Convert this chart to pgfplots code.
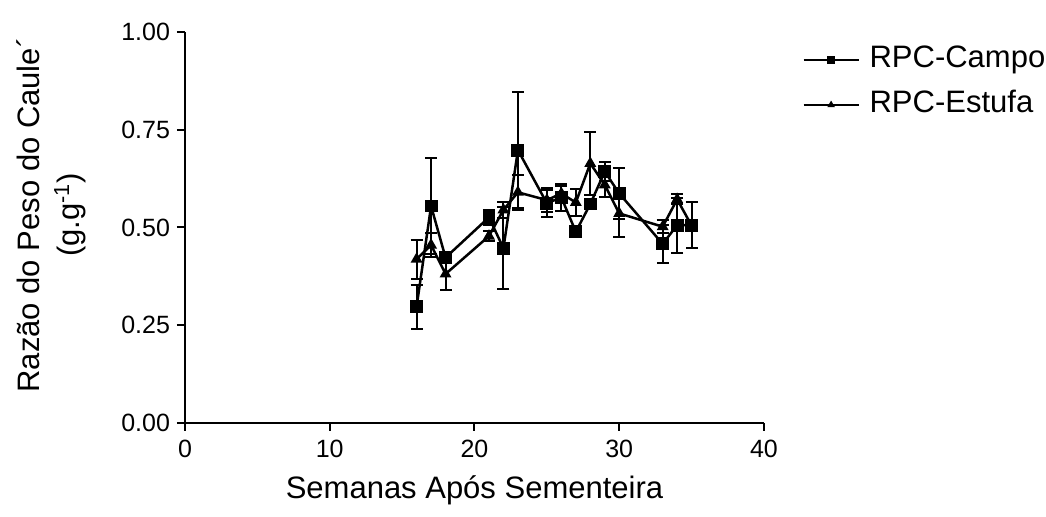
\documentclass[border=0pt]{standalone}
\usepackage{fontspec}
\setmainfont{Liberation Sans}
\usepackage{pgfplots}
\pgfplotsset{compat=1.18}
\begin{document}
\begin{tikzpicture}
\useasboundingbox (-92.5pt,-47pt) rectangle (430.5pt,211.5pt);
\begin{axis}[
  scale only axis,
  width=289.5pt, height=195.5pt,
  xmin=0, xmax=40, ymin=0, ymax=1,
  axis x line*=bottom, axis y line*=left,
  axis line style={line width=1pt},
  xtick={0,10,20,30,40},
  ytick={0,0.25,0.5,0.75,1},
  tick align=outside,
  major tick length=4pt,
  tick style={line width=1pt, black},
  /pgf/number format/assume math mode=true,
  yticklabel style={/pgf/number format/fixed, /pgf/number format/fixed zerofill, /pgf/number format/precision=2},
  ticklabel style={font=\fontsize{12.5}{14}\selectfont},
  xticklabel style={yshift=-1pt},
  xlabel={Semanas Após Sementeira},
  xlabel style={font=\fontsize{15.5}{18}\selectfont, at={(axis description cs:0.5,-0.171)}, anchor=center},
  ylabel={Razão do Peso do Caule´\\(g.g\textsuperscript{-1})},
  ylabel style={font=\fontsize{15.5}{20}\selectfont, align=center, rotate=0, at={(axis description cs:-0.2306,0.532)}, anchor=center},
  legend style={font=\fontsize{15.5}{18}\selectfont, draw=none, fill=none, inner sep=0pt,
    at={(axis description cs:1.066,0.871)}, anchor=west, row sep=8.5pt, column sep=5pt,
    nodes={inner sep=0pt, text height=11pt, text depth=3pt}},
  legend cell align=left,
  legend image code/.code={\draw[mark repeat=2,mark phase=2,#1] plot coordinates {(0pt,0pt) (13.75pt,0pt) (27.5pt,0pt)};},
  clip=false,
]
\addplot[black, line width=1.25pt, mark=square*, mark size=2.6pt, mark options={solid},
  legend image post style={mark size=1.5pt, line width=1pt},
  error bars/.cd, y dir=both, y explicit,
  error bar style={line width=1pt},
  error mark options={rotate=90, mark size=3pt, line width=1pt}]
  table[x=x, y=y, y error=e] {
x y e
16 0.297 0.057
17 0.555 0.123
18 0.423 0.015
21 0.526 0.020
22 0.447 0.105
23 0.698 0.149
25 0.562 0.035
26 0.577 0.035
27 0.489 0.010
28 0.560 0.010
29 0.643 0.025
30 0.587 0.065
33 0.458 0.048
34 0.506 0.070
35 0.506 0.058
};
\addlegendentry{RPC-Campo}
\addplot[black, line width=1.25pt, mark=triangle*, mark size=2.2pt, mark options={solid},
  legend image post style={mark size=1.2pt, line width=1pt},
  error bars/.cd, y dir=both, y explicit,
  error bar style={line width=1pt},
  error mark options={rotate=90, mark size=3pt, line width=1pt}]
  table[x=x, y=y, y error=e] {
x y e
16 0.419 0.050
17 0.455 0.030
18 0.381 0.040
21 0.478 0.012
22 0.545 0.020
23 0.590 0.045
25 0.570 0.030
26 0.587 0.020
27 0.564 0.035
28 0.664 0.080
29 0.609 0.030
30 0.536 0.060
33 0.502 0.017
34 0.572 0.013
35 0.505 0.010
};
\addlegendentry{RPC-Estufa}
\end{axis}
\end{tikzpicture}
\end{document}
